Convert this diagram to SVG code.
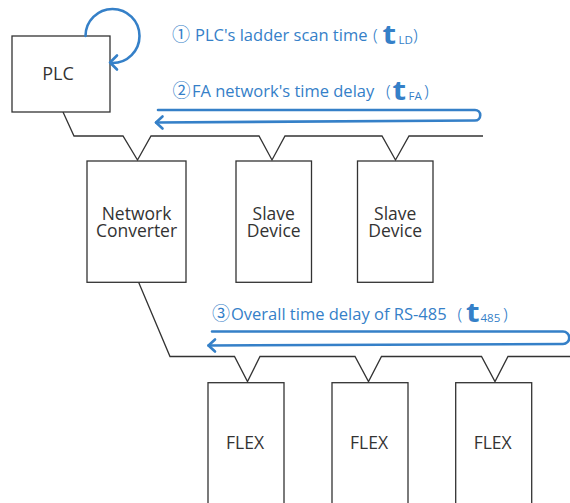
<svg xmlns="http://www.w3.org/2000/svg" width="570" height="503" viewBox="0 0 570 503">
<style>
.box{fill:#fff;stroke:#333;stroke-width:1.3}
.wire{fill:none;stroke:#333;stroke-width:1.3;stroke-linejoin:miter}
.flow{fill:none;stroke:#3580c8;stroke-width:2.6;stroke-linecap:round;stroke-linejoin:round}
.lbl{font-family:"Open Sans","Noto Sans",sans-serif;font-size:17.5px;fill:#333;text-anchor:middle}
.blue{font-family:"Open Sans","Noto Sans","Noto Sans CJK JP",sans-serif;font-size:16.5px;fill:#3580c8}
.circ{font-family:"Noto Sans CJK JP",sans-serif;font-size:18px}
.tt{font-family:"Open Sans","Noto Sans",sans-serif;font-weight:bold;font-size:26px}
.sub{font-size:11.5px}
.par{font-family:"Noto Sans",sans-serif;font-weight:300;font-size:17px}
</style>
<rect width="570" height="503" fill="#fff"/>
<g id="connectors">
<path class="wire" d="M63,112 L74,136 H123 L137.5,160 L151,136 H259 L272,160 L285,136 H382 L395.5,160 L409,136 H483"/>
<path class="wire" d="M138.5,282 L170,356.5 H234.5 L247.5,381.5 L260,356.5 H355 L368.5,381.5 L381.5,356.5 H481.5 L495,381.5 L508,356.5 H570"/>
</g>
<g id="PLC">
<rect class="box" x="12" y="36" width="98" height="76"/>
<text class="lbl" x="58" y="80" style="font-size:18px">PLC</text>
</g>
<g id="converter">
<rect class="box" x="87" y="161" width="99" height="121.3"/>
<text class="lbl"><tspan x="136.5" y="219.5">Network</tspan><tspan x="136.5" y="236.5">Converter</tspan></text>
</g>
<g id="slave1">
<rect class="box" x="236" y="161" width="75.5" height="121.3"/>
<text class="lbl"><tspan x="273.7" y="219.5">Slave</tspan><tspan x="273.7" y="236.5">Device</tspan></text>
</g>
<g id="slave2">
<rect class="box" x="357.5" y="161" width="75.5" height="121.3"/>
<text class="lbl"><tspan x="395.2" y="219.5">Slave</tspan><tspan x="395.2" y="236.5">Device</tspan></text>
</g>
<g id="flex1">
<rect class="box" x="208" y="382.7" width="76" height="130"/>
<text class="lbl" x="245" y="449">FLEX</text>
</g>
<g id="flex2">
<rect class="box" x="332" y="382.7" width="76" height="130"/>
<text class="lbl" x="369" y="449">FLEX</text>
</g>
<g id="flex3">
<rect class="box" x="455.7" y="382.7" width="76" height="130"/>
<text class="lbl" x="492.7" y="449">FLEX</text>
</g>
<g id="scan-loop">
<path class="flow" d="M85.5,36 A27,27 0 1 1 112.5,63"/>
<path class="flow" d="M117,55.5 L110,62.5 L117,69.5"/>
<text class="blue" y="41"><tspan class="circ" x="172">①</tspan><tspan x="195">PLC's ladder scan time</tspan><tspan class="par" x="373">(</tspan></text>
<text class="blue tt" transform="translate(382.5,43.5) scale(1.2,1)">t</text>
<text class="blue" y="43.5"><tspan class="sub" x="398.5">LD</tspan><tspan class="par" x="413" y="41">)</tspan></text>
</g>
<g id="fa-delay">
<path class="flow" d="M158,110 H475 A5.2,5.2 0 0 1 475,120.5 L156,122.5"/>
<path class="flow" d="M162.5,116.5 L156,122.5 L162.5,128.5"/>
<text class="blue" y="97"><tspan class="circ" x="172.5">②</tspan><tspan x="192">FA network's time delay</tspan><tspan class="par" x="386">(</tspan></text>
<text class="blue tt" transform="translate(392.5,99.5) scale(1.2,1)">t</text>
<text class="blue" y="99.5"><tspan class="sub" x="408.5">FA</tspan><tspan class="par" x="424" y="97">)</tspan></text>
</g>
<g id="rs485-delay">
<path class="flow" d="M212,331.5 H563 A6.2,6.2 0 0 1 563,344 L208.5,345.5"/>
<path class="flow" d="M215,339.5 L208.5,345.5 L215,351.5"/>
<text class="blue" y="319.5"><tspan class="circ" x="212">③</tspan><tspan x="231">Overall time delay of RS-485</tspan><tspan class="par" x="457.5">(</tspan></text>
<text class="blue tt" transform="translate(466,322) scale(1.2,1)">t</text>
<text class="blue" y="322"><tspan class="sub" x="480.5">485</tspan><tspan class="par" x="503" y="319.5">)</tspan></text>
</g>
</svg>
